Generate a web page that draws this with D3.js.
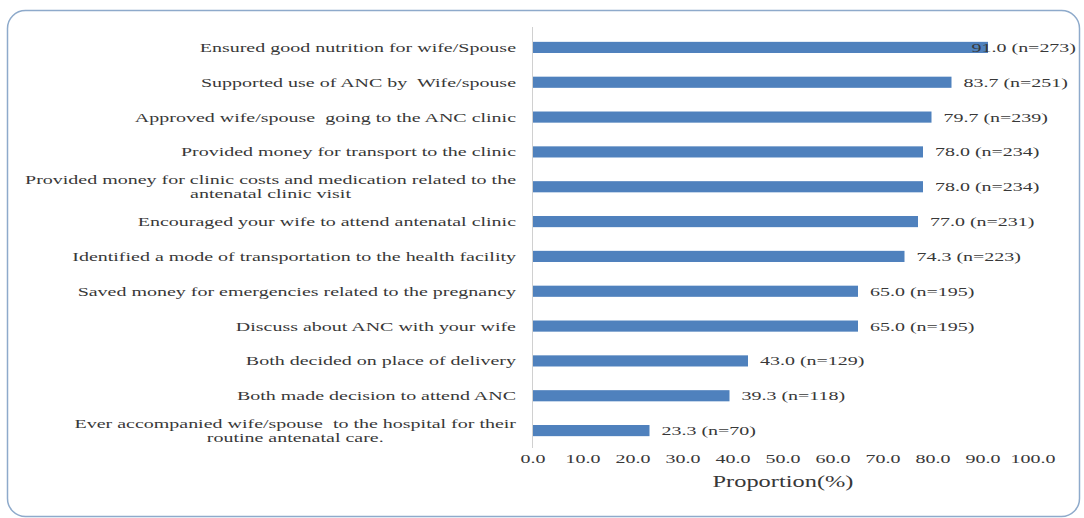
<!DOCTYPE html>
<html>
<head>
<meta charset="utf-8">
<script src="https://cdn.jsdelivr.net/npm/d3@7"></script>
<style>
  body { margin: 0; background: #fff; }
  text { font-family: "Liberation Serif", "Times New Roman", serif; fill: #383838; white-space: pre; }
</style>
</head>
<body>
<div id="chart"></div>
<script>
// Data (top to bottom)
const categories = [
    ["Ensured good nutrition for wife/Spouse"],
    ["Supported use of ANC by  Wife/spouse"],
    ["Approved wife/spouse  going to the ANC clinic"],
    ["Provided money for transport to the clinic"],
    ["Provided money for clinic costs and medication related to the", "antenatal clinic visit"],
    ["Encouraged your wife to attend antenatal clinic"],
    ["Identified a mode of transportation to the health facility"],
    ["Saved money for emergencies related to the pregnancy"],
    ["Discuss about ANC with your wife"],
    ["Both decided on place of delivery"],
    ["Both made decision to attend ANC"],
    ["Ever accompanied wife/spouse  to the hospital for their", "routine antenatal care."]
];
const percents = [91.0, 83.7, 79.7, 78.0, 78.0, 77.0, 74.3, 65.0, 65.0, 43.0, 39.3, 23.3];
const counts = [273, 251, 239, 234, 234, 231, 223, 195, 195, 129, 118, 70];
const xTicks = [0, 10, 20, 30, 40, 50, 60, 70, 80, 90, 100];
const xTitle = "Proportion(%)";

const W = 1084, H = 518;
const SX = 1.48; // the picture's text is stretched sideways
const plot = { left: 533, right: 1033, top: 30, bottom: 448 };

const svg = d3.select("#chart").append("svg")
    .attr("width", W)
    .attr("height", H);

// rounded frame
svg.append("rect")
    .attr("x", 7.5).attr("y", 10.5)
    .attr("width", 1072).attr("height", 506)
    .attr("rx", 18).attr("ry", 18)
    .attr("fill", "#fff")
    .attr("stroke", "#8eaacb")
    .attr("stroke-width", 1.5);

const x = d3.scaleLinear().domain([0, 100]).range([plot.left, plot.right]);
const y = d3.scaleBand()
    .domain(d3.range(categories.length))
    .range([plot.top, plot.bottom])
    .paddingInner(0.68)
    .paddingOuter(0.34);

// bars
svg.append("g")
    .selectAll("rect")
    .data(percents)
    .enter().append("rect")
    .attr("x", x(0))
    .attr("y", (d, i) => y(i))
    .attr("width", d => x(d) - x(0))
    .attr("height", y.bandwidth())
    .attr("fill", "#4f81bd");

// vertical axis line
svg.append("line")
    .attr("x1", x(0) - 0.5).attr("x2", x(0) - 0.5)
    .attr("y1", plot.top - 3).attr("y2", plot.bottom)
    .attr("stroke", "#d0d0d0")
    .attr("stroke-width", 1);

// helper: stretched text
function stretched(g, str, px, py, anchor, size) {
    return g.append("text")
        .attr("transform", `translate(${px},${py}) scale(${SX},1)`)
        .attr("text-anchor", anchor)
        .style("font-size", size + "px")
        .text(str);
}

// category labels: right aligned block, lines centred inside it
const catG = svg.append("g");
const labelRight = 516;
const lineGap = 14;
categories.forEach((lines, i) => {
    const cy = y(i) + y.bandwidth() / 2;
    const texts = lines.map(s => stretched(catG, s, 0, 0, "middle", 13.5));
    const maxW = d3.max(texts, t => t.node().getComputedTextLength()) * SX;
    const cx = labelRight - maxW / 2;
    const y0 = cy + 4.5 - (lines.length - 1) * lineGap / 2;
    texts.forEach((t, k) => {
        t.attr("transform", `translate(${cx},${y0 + k * lineGap}) scale(${SX},1)`);
    });
});

// value labels
const valG = svg.append("g");
percents.forEach((v, i) => {
    const str = `${v.toFixed(1)} (n=${counts[i]})`;
    const cy = y(i) + y.bandwidth() / 2 + 4.5;
    const t = stretched(valG, str, x(v) + 12, cy, "start", 13.5);
    const w = t.node().getComputedTextLength() * SX;
    if (x(v) + 12 + w > 1077) {
        t.attr("transform", `translate(1076,${cy}) scale(${SX},1)`).attr("text-anchor", "end");
    }
});

// x axis tick labels
const axG = svg.append("g");
xTicks.forEach(t => {
    stretched(axG, t.toFixed(1), x(t), 463, "middle", 13.5);
});

// axis title
stretched(svg, xTitle, (plot.left + plot.right) / 2, 487, "middle", 16.5);
</script>
</body>
</html>
